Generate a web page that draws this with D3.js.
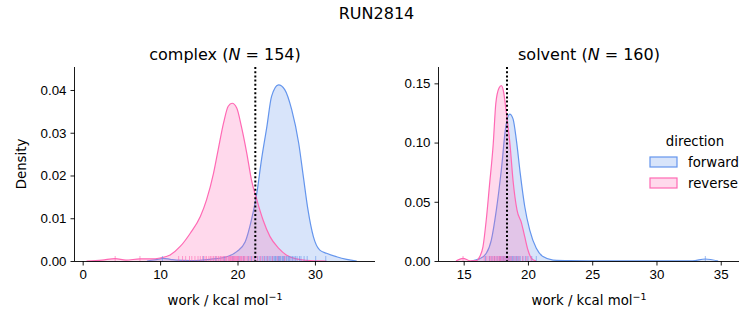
<!DOCTYPE html>
<html>
<head>
<meta charset="utf-8">
<script src="https://cdn.jsdelivr.net/npm/d3@7"></script>
<style>
  body { margin: 0; background: #fff; }
  svg { display: block; font-family: "DejaVu Sans", sans-serif; }
  .tick text { font-size: 13.3px; fill: #000; }
  .tick line, .domain { stroke: #000; stroke-width: 0.9; }
</style>
</head>
<body>
<div id="chart"></div>
<script>
// KDE curves (work, density) for each phase and direction
const complexForward = [
  [8.3, 0], [9.5, 0.0003], [10.4, 0.0006], [11.3, 0.0004], [12.1, 0.0002], [14.0, 0.0001],
  [16.4, 0.0004], [18.6, 0.001], [19.9, 0.0022], [21.0, 0.0045], [21.8, 0.0096],
  [22.5, 0.0159], [23.1, 0.0237], [23.8, 0.0315], [24.4, 0.0385], [25.3, 0.0412],
  [26.1, 0.0401], [27.0, 0.0354], [27.9, 0.0276], [28.5, 0.0198], [29.1, 0.012],
  [29.8, 0.0057], [30.6, 0.0026], [31.5, 0.0018], [32.8, 0.001], [34.1, 0.0004], [35.4, 0]
];
const complexReverse = [
  [0.5, 0], [2.5, 0.0002], [4.2, 0.00055], [5.6, 0.0002], [7.4, 0.0005], [8.8, 0.0005],
  [10.0, 0.0007], [11.3, 0.0014], [12.6, 0.0034], [13.9, 0.0065], [15.2, 0.0104],
  [16.0, 0.0143], [16.9, 0.0205], [17.5, 0.026], [18.2, 0.0323], [18.8, 0.0362],
  [19.3, 0.0369], [19.9, 0.0358], [20.5, 0.0315], [21.2, 0.0252], [21.8, 0.019],
  [22.5, 0.0143], [23.3, 0.0096], [24.2, 0.0057], [25.3, 0.003], [26.3, 0.0014],
  [27.6, 0.0005], [29.4, 0.0001], [31.5, 0]
];
const solventForward = [
  [15.6, 0], [16.25, 0.002], [16.76, 0.0065], [17.15, 0.0177], [17.54, 0.043],
  [17.93, 0.077], [18.27, 0.113], [18.58, 0.124], [18.84, 0.12], [19.1, 0.102],
  [19.4, 0.074], [19.75, 0.046], [20.14, 0.026], [20.65, 0.0107], [21.17, 0.0037],
  [21.95, 0.0008], [23.25, 0.0003], [26.0, 0.0001], [32.8, 0.0001], [33.8, 0.0017], [34.8, 0]
];
const solventReverse = [
  [14.4, 0], [14.95, 0.0023], [15.5, 0.0002], [16.0, 0.0003], [16.25, 0.0037],
  [16.5, 0.012], [16.76, 0.035], [17.0, 0.063], [17.3, 0.099], [17.5, 0.133],
  [17.75, 0.146], [17.93, 0.148], [18.1, 0.143], [18.3, 0.127], [18.6, 0.099],
  [18.84, 0.068], [19.15, 0.043], [19.5, 0.032], [19.75, 0.0205], [20.0, 0.0093],
  [20.27, 0.0023], [20.65, 0]
];

// individual work values shown as rug ticks
const complexForwardWork = [10.3, 15.6, 17.2, 18.3, 19.4, 20.2, 20.8, 21.4, 21.8, 22.2, 22.6, 22.9,
  23.2, 23.5, 23.7, 23.9, 24.1, 24.3, 24.5, 24.6, 24.8, 24.9, 25.0, 25.2, 25.3, 25.4, 25.5,
  25.6, 25.8, 25.9, 26.0, 26.1, 26.3, 26.4, 26.6, 26.7, 26.9, 27.1, 27.3, 27.5, 27.7, 28.0,
  28.2, 28.6, 29.0, 30.1, 31.4];
const complexReverseWork = [4.2, 7.4, 12.4, 12.9, 13.3, 13.8, 14.1, 14.5, 14.9, 15.2, 15.5, 15.8,
  16.0, 16.3, 16.5, 16.7, 16.9, 17.1, 17.3, 17.5, 17.6, 17.8, 17.9, 18.1, 18.2, 18.4, 18.5,
  18.6, 18.8, 18.9, 19.0, 19.1, 19.2, 19.3, 19.4, 19.5, 19.6, 19.7, 19.8, 19.9, 20.0, 20.1,
  20.2, 20.4, 20.5, 20.6, 20.8, 20.9, 21.1, 21.3, 21.5, 21.7, 22.0, 22.3, 22.6, 23.0, 23.4,
  23.9, 24.5, 25.2, 26.1];
const solventForwardWork = [16.7, 17.0, 17.2, 17.4, 17.6, 17.8, 17.9, 18.0, 18.1, 18.2, 18.3, 18.4,
  18.5, 18.6, 18.7, 18.8, 18.9, 19.0, 19.1, 19.2, 19.3, 19.4, 19.6, 19.8, 20.0, 20.3, 20.65, 33.8];
const solventReverseWork = [14.95, 16.6, 16.8, 17.0, 17.1, 17.2, 17.3, 17.4, 17.5, 17.6, 17.7, 17.8,
  17.85, 17.9, 18.0, 18.1, 18.2, 18.3, 18.4, 18.5, 18.6, 18.7, 18.9, 19.1, 19.3, 19.6, 19.9, 20.25];

const complexFreeEnergy = 22.3;
const solventFreeEnergy = 18.37;

const directions = ["forward", "reverse"];
const colors = { forward: "#6495ED", reverse: "#FF69B4" };

const width = 753, height = 325;

const svg = d3.select("#chart").append("svg")
  .attr("width", width)
  .attr("height", height);

svg.append("text")
  .attr("x", 376.5).attr("y", 19)
  .attr("text-anchor", "middle")
  .style("font-size", "16px")
  .text("RUN2814");

function drawPanel(p) {
  const x = d3.scaleLinear().domain(p.xDomain).range([p.left, p.right]);
  const y = d3.scaleLinear().domain(p.yDomain).range([p.bottom, p.top]);
  const g = svg.append("g");

  const area = d3.area()
    .x(d => x(d[0])).y0(y(0)).y1(d => y(d[1]))
    .curve(d3.curveMonotoneX);
  const line = d3.line()
    .x(d => x(d[0])).y(d => y(d[1]))
    .curve(d3.curveMonotoneX);

  directions.forEach(dir => {
    g.append("path").datum(p.curves[dir])
      .attr("d", area)
      .attr("fill", colors[dir]).attr("fill-opacity", 0.25);
    g.append("path").datum(p.curves[dir])
      .attr("d", line)
      .attr("fill", "none").attr("stroke", colors[dir]).attr("stroke-width", 1.2);
  });

  // rug
  directions.forEach(dir => {
    g.selectAll(null).data(p.rugs[dir]).join("line")
      .attr("x1", d => x(d)).attr("x2", d => x(d))
      .attr("y1", p.bottom).attr("y2", p.bottom - 5)
      .attr("stroke", colors[dir]).attr("stroke-opacity", 0.6).attr("stroke-width", 1);
  });

  // free energy estimate
  g.append("line")
    .attr("x1", x(p.dg)).attr("x2", x(p.dg))
    .attr("y1", p.top).attr("y2", p.bottom)
    .attr("stroke", "#000").attr("stroke-width", 2)
    .attr("stroke-dasharray", "2,2.2");

  g.append("g")
    .attr("transform", `translate(0,${p.bottom})`)
    .call(d3.axisBottom(x).tickValues(p.xTicks).tickFormat(d3.format("d")).tickSize(4.5).tickPadding(4))
    .call(a => a.select(".domain").attr("d", `M${p.left},0.5H${p.right}`));

  g.append("g")
    .attr("transform", `translate(${p.left},0)`)
    .call(d3.axisLeft(y).tickValues(p.yTicks).tickFormat(d3.format(".2f")).tickSize(4.5).tickPadding(4))
    .call(a => a.select(".domain").attr("d", `M-0.5,${p.top}V${p.bottom}`));

  const title = svg.append("text")
    .attr("x", (p.left + p.right) / 2).attr("y", 60)
    .attr("text-anchor", "middle")
    .style("font-size", "16px");
  title.append("tspan").text(p.name + " (");
  title.append("tspan").style("font-style", "italic").text("N");
  title.append("tspan").text(" = " + p.n + ")");

  const xl = svg.append("text")
    .attr("x", (p.left + p.right) / 2).attr("y", 305)
    .attr("text-anchor", "middle")
    .style("font-size", "13.3px");
  xl.append("tspan").text("work / kcal mol");
  xl.append("tspan").attr("dy", -5.5).style("font-size", "9.5px").text("\u22121");
}

drawPanel({
  name: "complex", n: 154,
  left: 75, right: 375, top: 67, bottom: 261,
  xDomain: [-0.99, 37.76], yDomain: [0, 0.04538],
  xTicks: [0, 10, 20, 30], yTicks: [0, 0.01, 0.02, 0.03, 0.04],
  curves: { forward: complexForward, reverse: complexReverse },
  rugs: { forward: complexForwardWork, reverse: complexReverseWork },
  dg: complexFreeEnergy
});

drawPanel({
  name: "solvent", n: 160,
  left: 439, right: 739, top: 67, bottom: 261,
  xDomain: [13.08, 36.42], yDomain: [0, 0.1638],
  xTicks: [15, 20, 25, 30, 35], yTicks: [0, 0.05, 0.1, 0.15],
  curves: { forward: solventForward, reverse: solventReverse },
  rugs: { forward: solventForwardWork, reverse: solventReverseWork },
  dg: solventFreeEnergy
});

svg.append("text")
  .attr("x", 21).attr("y", 164)
  .attr("transform", "rotate(-90,21,164)")
  .attr("text-anchor", "middle")
  .attr("dy", "0.35em")
  .style("font-size", "13.3px")
  .text("Density");

// legend
const legend = svg.append("g");
legend.append("text")
  .attr("x", 695).attr("y", 146)
  .attr("text-anchor", "middle")
  .style("font-size", "13.3px")
  .text("direction");
directions.forEach((dir, i) => {
  const yy = 157 + i * 21;
  legend.append("rect")
    .attr("x", 650).attr("y", yy).attr("width", 27).attr("height", 10)
    .attr("fill", colors[dir]).attr("fill-opacity", 0.25)
    .attr("stroke", colors[dir]).attr("stroke-width", 1.2);
  legend.append("text")
    .attr("x", 688).attr("y", yy + 5).attr("dy", "0.35em")
    .style("font-size", "13.3px")
    .text(dir);
});
</script>
</body>
</html>
